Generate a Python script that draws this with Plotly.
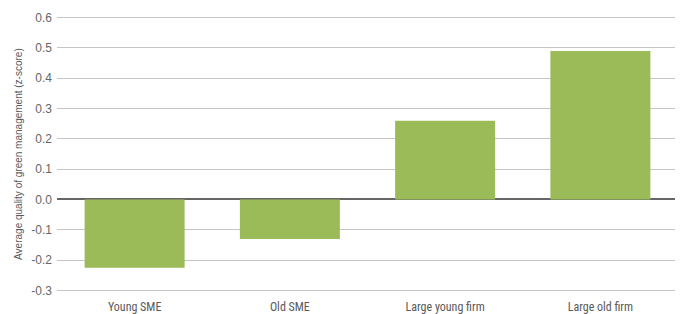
import plotly.graph_objects as go

categories = ["Young SME", "Old SME", "Large young firm", "Large old firm"]
values = [-0.225, -0.13, 0.26, 0.49]
y_ticks = [-0.3, -0.2, -0.1, 0.0, 0.1, 0.2, 0.3, 0.4, 0.5, 0.6]
y_tick_labels = ["-0.3", "-0.2", "-0.1", "0.0", "0.1", "0.2", "0.3", "0.4", "0.5", "0.6"]
y_title = "Average quality of green management (z-score)"

fig = go.Figure(go.Bar(x=categories, y=values, marker=dict(color="#9bbb59", line=dict(width=0))))

# page body keeps an 8px margin, so the figure is sized to fit the window
fig.update_layout(
    width=675, height=306,
    margin=dict(l=49, r=5, t=8, b=22),
    paper_bgcolor="white", plot_bgcolor="white",
    bargap=0.356,
    showlegend=False,
    font=dict(family="Liberation Sans, Arial, sans-serif", color="#595959"),
)
fig.update_xaxes(
    showgrid=False, showline=False, ticks="", automargin=False, ticklabelstandoff=6,
    tickfont=dict(family="Liberation Sans Narrow, Roboto Condensed, Liberation Sans", size=12, color="#595959"),
)
fig.update_yaxes(
    range=[-0.305, 0.605], tickvals=y_ticks, ticktext=y_tick_labels,
    showgrid=True, gridcolor="#c4c4c4", gridwidth=1,
    zeroline=True, zerolinecolor="#666666", zerolinewidth=2,
    showline=False, ticks="", ticklabelstandoff=4, automargin=False,
    tickfont=dict(size=12, color="#666666"),
)
fig.add_annotation(
    text=y_title, textangle=-90, xref="paper", yref="paper",
    x=-0.063, y=0.5, xanchor="center", yanchor="middle", showarrow=False,
    font=dict(size=10, color="#595959"),
)
fig.write_html("out.html")
